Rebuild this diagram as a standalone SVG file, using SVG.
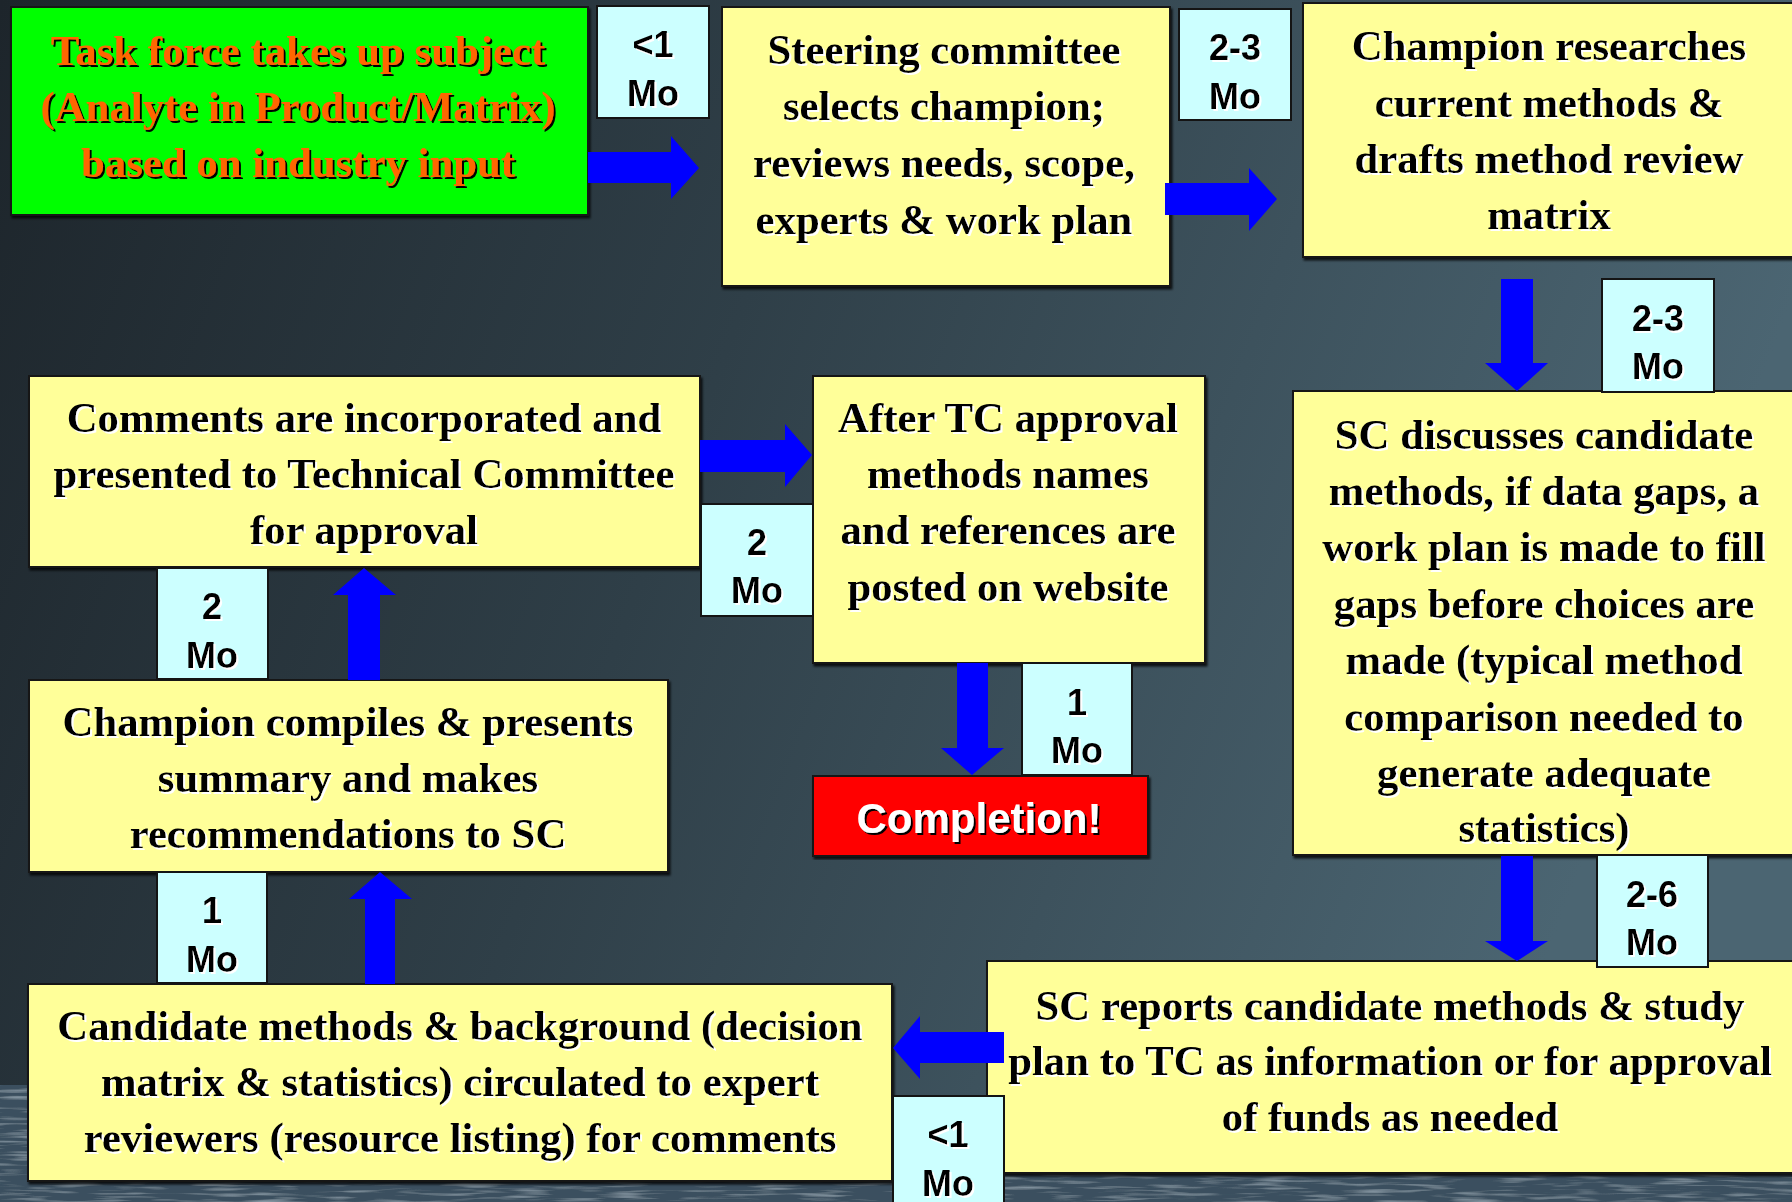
<svg xmlns="http://www.w3.org/2000/svg" width="1792" height="1202" viewBox="0 0 1792 1202">
<defs>
  <linearGradient id="bg" x1="0" y1="0" x2="1" y2="0.25">
    <stop offset="0" stop-color="#1d252b"/>
    <stop offset="0.45" stop-color="#2f3f48"/>
    <stop offset="1" stop-color="#4b6572"/>
  </linearGradient>
  <filter id="tex" x="0" y="0" width="100%" height="100%">
    <feTurbulence type="fractalNoise" baseFrequency="0.02 0.3" numOctaves="2" seed="3" result="n"/>
    <feColorMatrix in="n" type="matrix" values="0 0 0 0 0.45  0 0 0 0 0.56  0 0 0 0 0.64  1.2 0 0 0 -0.6" result="r"/>
    <feMerge result="m"><feMergeNode in="SourceGraphic"/><feMergeNode in="r"/></feMerge>
    <feComposite in="m" in2="SourceGraphic" operator="in"/>
  </filter>
  <filter id="ws" x="-5%" y="-20%" width="110%" height="140%">
    <feDropShadow dx="2" dy="2" stdDeviation="0.4" flood-color="#ffffff" flood-opacity="1"/>
  </filter>
  <filter id="bs" x="-5%" y="-20%" width="110%" height="140%">
    <feDropShadow dx="2" dy="2" stdDeviation="0.4" flood-color="#000000" flood-opacity="1"/>
  </filter>
  <filter id="box" x="-2%" y="-2%" width="104%" height="106%">
    <feDropShadow dx="1.5" dy="2.5" stdDeviation="0.8" flood-color="#000" flood-opacity="0.8"/>
  </filter>
  <style>
    .node { fill: #ffff99; stroke: #141414; stroke-width: 2; filter: url(#box); }
    .green { fill: #00ff00; }
    .red { fill: #ff0000; }
    .lab { fill: #ccffff; stroke: #141414; stroke-width: 2; }
    .t { font-family: "Liberation Serif", "Times New Roman", serif; font-weight: bold; font-size: 42.8px; text-anchor: middle; fill: #000; filter: url(#ws); }
    .og { fill: #ff6600; filter: url(#bs); }
    .l { font-family: "Liberation Sans", Arial, sans-serif; font-weight: bold; font-size: 36px; text-anchor: middle; fill: #000; filter: url(#ws); }
    .c { font-family: "Liberation Sans", Arial, sans-serif; font-weight: bold; font-size: 42px; text-anchor: middle; fill: #fff; filter: url(#bs); }
    .arr { fill: #0000ff; stroke: none; }
  </style>
</defs>

<rect x="0" y="0" width="1792" height="1202" fill="url(#bg)"/>
<g id="texture">
  <rect x="0" y="1172" width="1792" height="30" fill="#3a505e" filter="url(#tex)"/>
  <rect x="0" y="1085" width="34" height="117" fill="#3a505e" filter="url(#tex)"/>
</g>

<g id="n-taskforce">
  <rect class="node green" x="11" y="7" width="577" height="208"/>
  <text class="t og" x="298"><tspan x="298" y="65">Task force takes up subject</tspan><tspan x="298" y="121">(Analyte in Product/Matrix)</tspan><tspan x="298" y="177">based on industry input</tspan></text>
</g>

<g id="n-steering">
  <rect class="node" x="722" y="7" width="448" height="279"/>
  <text class="t"><tspan x="944" y="64">Steering committee</tspan><tspan x="944" y="120">selects champion;</tspan><tspan x="944" y="177">reviews needs, scope,</tspan><tspan x="944" y="234">experts &amp; work plan</tspan></text>
</g>

<g id="n-champion-research">
  <rect class="node" x="1303" y="3" width="500" height="254"/>
  <text class="t"><tspan x="1549" y="60">Champion researches</tspan><tspan x="1549" y="117">current methods &amp;</tspan><tspan x="1549" y="173">drafts method review</tspan><tspan x="1549" y="229">matrix</tspan></text>
</g>

<g id="n-sc-discusses">
  <rect class="node" x="1293" y="391" width="510" height="464"/>
  <text class="t"><tspan x="1544" y="449">SC discusses candidate</tspan><tspan x="1544" y="505">methods, if data gaps, a</tspan><tspan x="1544" y="561">work plan is made to fill</tspan><tspan x="1544" y="618">gaps before choices are</tspan><tspan x="1544" y="674">made (typical method</tspan><tspan x="1544" y="731">comparison needed to</tspan><tspan x="1544" y="787">generate adequate</tspan><tspan x="1544" y="842">statistics)</tspan></text>
</g>

<g id="n-sc-reports">
  <rect class="node" x="987" y="961" width="816" height="212"/>
  <text class="t"><tspan x="1390" y="1020">SC reports candidate methods &amp; study</tspan><tspan x="1390" y="1075">plan to TC as information or for approval</tspan><tspan x="1390" y="1131">of funds as needed</tspan></text>
</g>

<g id="n-candidate">
  <rect class="node" x="28" y="984" width="864" height="197"/>
  <text class="t"><tspan x="460" y="1040">Candidate methods &amp; background (decision</tspan><tspan x="460" y="1096">matrix &amp; statistics) circulated to expert</tspan><tspan x="460" y="1152">reviewers (resource listing) for comments</tspan></text>
</g>

<g id="n-champion-compiles">
  <rect class="node" x="29" y="680" width="639" height="192"/>
  <text class="t"><tspan x="348" y="736">Champion compiles &amp; presents</tspan><tspan x="348" y="792">summary and makes</tspan><tspan x="348" y="848">recommendations to SC</tspan></text>
</g>

<g id="n-comments">
  <rect class="node" x="29" y="376" width="671" height="191"/>
  <text class="t"><tspan x="364" y="432">Comments are incorporated and</tspan><tspan x="364" y="488">presented to Technical Committee</tspan><tspan x="364" y="544">for approval</tspan></text>
</g>

<g id="n-after-tc">
  <rect class="node" x="813" y="376" width="392" height="287"/>
  <text class="t"><tspan x="1008" y="432">After TC approval</tspan><tspan x="1008" y="488">methods names</tspan><tspan x="1008" y="544">and references are</tspan><tspan x="1008" y="601">posted on website</tspan></text>
</g>

<g id="n-completion">
  <rect class="node red" x="813" y="776" width="335" height="80"/>
  <text class="c" x="979" y="833">Completion!</text>
</g>

<g id="connectors">
  <polygon class="arr" points="588,152 671,152 671,136 699,168 671,199 671,183 588,183"/>
  <polygon class="arr" points="1165,183 1249,183 1249,168 1277,199 1249,231 1249,215 1165,215"/>
  <polygon class="arr" points="1501,279 1533,279 1533,363 1548,363 1517,391 1485,363 1501,363"/>
  <polygon class="arr" points="1501,856 1533,856 1533,941 1548,941 1517,961 1485,941 1501,941"/>
  <polygon class="arr" points="1004,1032 920,1032 920,1016 893,1048 920,1079 920,1063 1004,1063"/>
  <polygon class="arr" points="365,984 395,984 395,899 412,899 380,872 349,899 365,899"/>
  <polygon class="arr" points="348,680 380,680 380,595 396,595 364,568 333,595 348,595"/>
  <polygon class="arr" points="700,440 785,440 785,424 812,455 785,487 785,472 700,472"/>
  <polygon class="arr" points="957,663 988,663 988,748 1004,748 972,775 941,748 957,748"/>
</g>

<g id="labels">
  <g id="lab-1"><rect class="lab" x="597" y="6" width="112" height="112"/><text class="l"><tspan x="653" y="57">&lt;1</tspan><tspan x="653" y="106">Mo</tspan></text></g>
  <g id="lab-2"><rect class="lab" x="1179" y="9" width="112" height="111"/><text class="l"><tspan x="1235" y="60">2-3</tspan><tspan x="1235" y="109">Mo</tspan></text></g>
  <g id="lab-3"><rect class="lab" x="1602" y="279" width="112" height="113"/><text class="l"><tspan x="1658" y="331">2-3</tspan><tspan x="1658" y="379">Mo</tspan></text></g>
  <g id="lab-4"><rect class="lab" x="1597" y="855" width="111" height="112"/><text class="l"><tspan x="1652" y="907">2-6</tspan><tspan x="1652" y="955">Mo</tspan></text></g>
  <g id="lab-5"><rect class="lab" x="893" y="1096" width="111" height="116"/><text class="l"><tspan x="948" y="1147">&lt;1</tspan><tspan x="948" y="1196">Mo</tspan></text></g>
  <g id="lab-6"><rect class="lab" x="157" y="872" width="110" height="111"/><text class="l"><tspan x="212" y="923">1</tspan><tspan x="212" y="972">Mo</tspan></text></g>
  <g id="lab-7"><rect class="lab" x="157" y="568" width="111" height="111"/><text class="l"><tspan x="212" y="619">2</tspan><tspan x="212" y="668">Mo</tspan></text></g>
  <g id="lab-8"><rect class="lab" x="701" y="504" width="112" height="112"/><text class="l"><tspan x="757" y="555">2</tspan><tspan x="757" y="603">Mo</tspan></text></g>
  <g id="lab-9"><rect class="lab" x="1022" y="663" width="110" height="112"/><text class="l"><tspan x="1077" y="715">1</tspan><tspan x="1077" y="763">Mo</tspan></text></g>
</g>
</svg>
